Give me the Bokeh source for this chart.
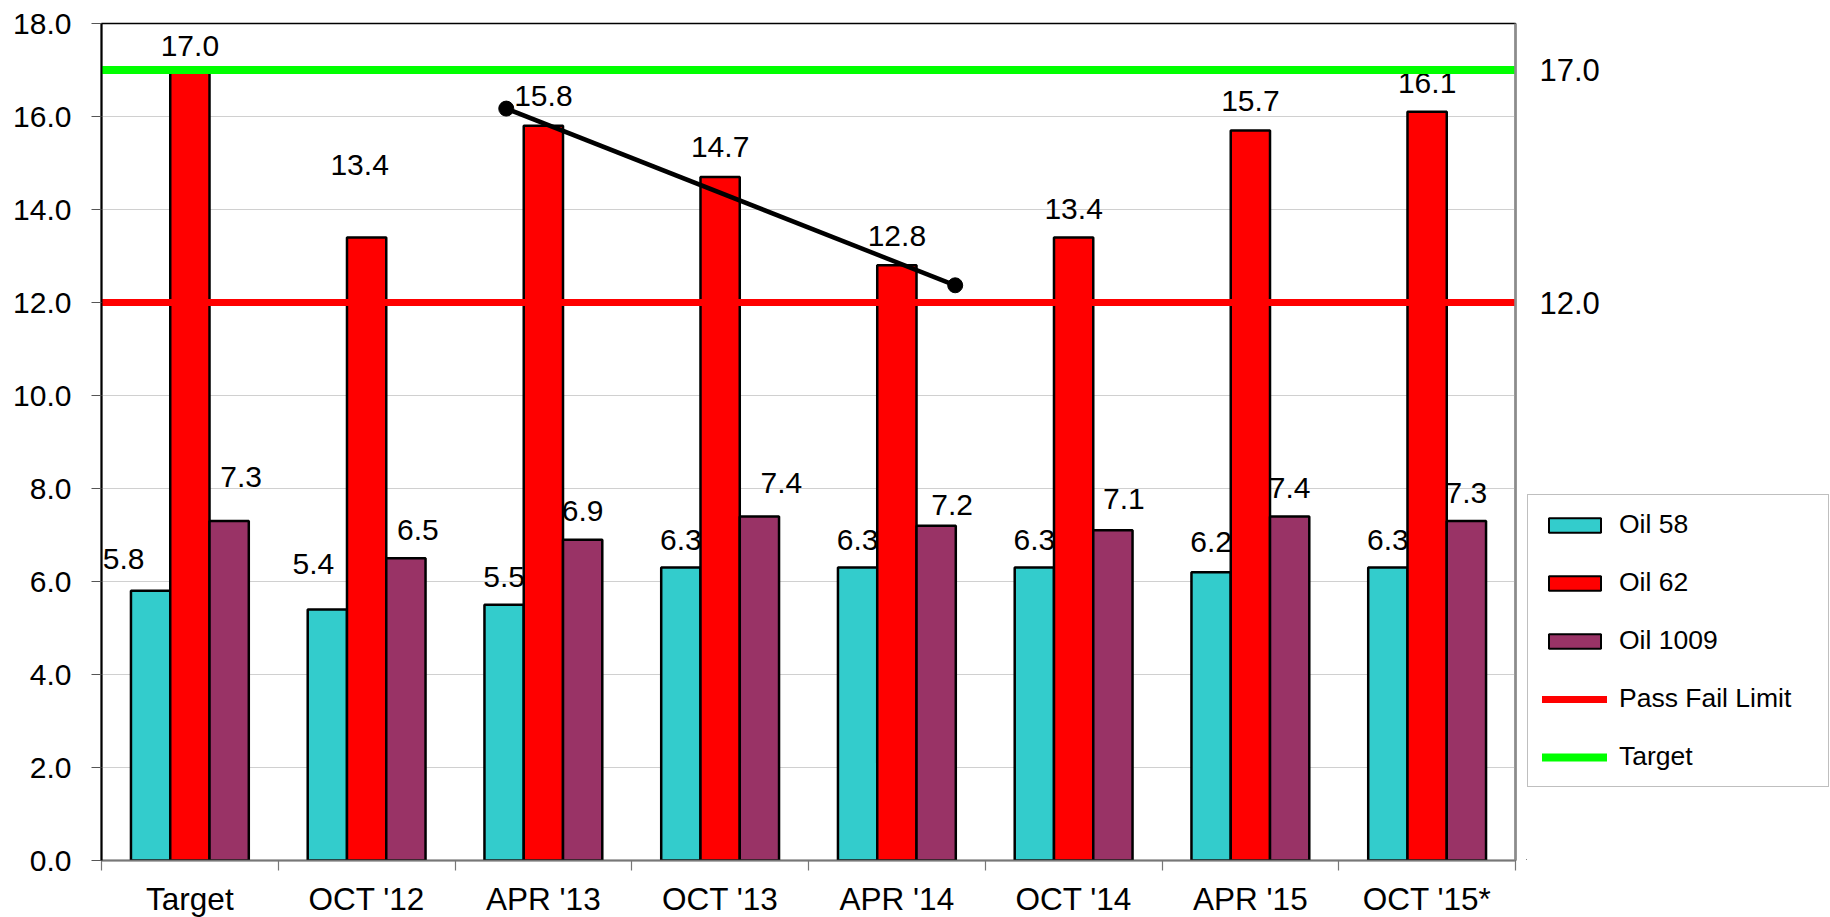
import numpy as np
from bokeh.plotting import figure
from bokeh.layouts import row
from bokeh.models import (ColumnDataSource, LabelSet, LinearAxis, FixedTicker,
                          PrintfTickFormatter, Legend, LegendItem, Range1d)
from bokeh.core.properties import value
from bokeh.embed import file_html
from bokeh.resources import INLINE

# ---------------- data ----------------
categories = ["Target", "OCT '12", "APR '13", "OCT '13", "APR '14", "OCT '14", "APR '15", "OCT '15*"]
oil_58 = [5.8, 5.4, 5.5, 6.3, 6.3, 6.3, 6.2, 6.3]
oil_62 = [17.0, 13.4, 15.8, 14.7, 12.8, 13.4, 15.7, 16.1]
oil_1009 = [7.3, 6.5, 6.9, 7.4, 7.2, 7.1, 7.4, 7.3]
pass_fail_limit = 12.0
target = 17.0
y_ticks = [0, 2, 4, 6, 8, 10, 12, 14, 16, 18]
# trend arrow drawn over the Oil 62 bars (x in category units, y in values)
trend_x = [2.29, 4.83]
trend_y = [16.17, 12.37]

# ---------------- label nudges (pixels; style only) ----------------
dx_58 = [-27, -14, 0, 0, 0, 0, 0, 0]
up_58 = [32, 45, 28, 28, 28, 28, 30, 28]
dx_62 = [0, -7, 0, 0, 0, 0, 0, 0]
up_62 = [24, 72, 29.5, 29.5, 29, 28, 29.5, 29]
dx_1009 = [12, 12, 0, 22, 16, 11, 0, 0]
up_1009 = [44, 28, 29, 33, 21, 31, 28.6, 28.5]

FONT = "Liberation Sans"
n = len(categories)
TOTAL_W = 1830
FL, FT, FW, FH = 101, 23, 1414, 837
RIGHT_GAP = 11
SIDE_W = TOTAL_W - FL - FW - RIGHT_GAP

y_range = Range1d(y_ticks[0], y_ticks[-1])

p = figure(frame_width=FW, frame_height=FH,
           x_range=Range1d(0, n), y_range=y_range,
           output_backend="svg", toolbar_location=None)
p.min_border = 0
p.min_border_left = FL
p.min_border_top = FT
p.min_border_right = RIGHT_GAP
p.min_border_bottom = 0
p.background_fill_color = "white"
p.border_fill_color = "white"
p.outline_line_color = "black"
p.outline_line_width = 1.5

xc = np.arange(n) + 0.5

# x axis: labels at category centres, tick marks at category boundaries
xa = p.xaxis[0]
xa.ticker = FixedTicker(ticks=list(xc), minor_ticks=list(range(n + 1)))
xa.major_label_overrides = {float(x): c for x, c in zip(xc, categories)}
xa.major_label_text_font = FONT
xa.major_label_text_font_size = "31.5px"
xa.major_label_text_color = "black"
xa.major_label_standoff = 10
xa.major_tick_out = 0
xa.major_tick_in = 0
xa.minor_tick_out = 10
xa.minor_tick_in = 0
xa.axis_line_color = "#777777"
xa.axis_line_width = 1.5
xa.minor_tick_line_color = "#777777"
xa.minor_tick_line_width = 1.2

ya = p.yaxis[0]
ya.ticker = FixedTicker(ticks=y_ticks, minor_ticks=[])
ya.formatter = PrintfTickFormatter(format="%.1f")
ya.major_label_text_font = FONT
ya.major_label_text_font_size = "30px"
ya.major_label_text_color = "black"
ya.major_label_standoff = 20
ya.major_tick_out = 10
ya.major_tick_in = 0
ya.minor_tick_out = 0
ya.minor_tick_in = 0
ya.major_tick_line_color = "#555555"
ya.axis_line_color = "black"
ya.axis_line_width = 2

# grey right-hand frame edge
ra = LinearAxis(ticker=FixedTicker(ticks=[], minor_ticks=[]),
                major_tick_out=0, major_tick_in=0, minor_tick_out=0, minor_tick_in=0,
                major_label_standoff=0, major_label_text_font_size="1px",
                axis_line_color="#8c8c8c", axis_line_width=2.5)
p.add_layout(ra, "right")

p.xgrid.visible = False
p.ygrid.ticker = FixedTicker(ticks=y_ticks, minor_ticks=[])
p.ygrid.grid_line_color = "#d0d0d0"
p.ygrid.grid_line_width = 1

# ---------------- bars + labels ----------------
bw = 1 / 4.5
series = [
    ("Oil 58", oil_58, "#33CCCC", -1, dx_58, up_58),
    ("Oil 62", oil_62, "#FF0000", 0, dx_62, up_62),
    ("Oil 1009", oil_1009, "#993366", 1, dx_1009, up_1009),
]
for name, vals, col, k, dx, up in series:
    src = ColumnDataSource(dict(x=xc + k * bw, top=vals,
                                text=["%.1f" % v for v in vals], dx=dx, up=up))
    lab = LabelSet(x="x", y="top", text="text", source=src, x_offset="dx", y_offset="up",
                   text_align="center", text_baseline="middle",
                   text_font=value(FONT), text_font_size=value("30px"),
                   text_color="black", level="underlay")
    p.add_layout(lab)
    p.vbar(x="x", top="top", width=bw, bottom=0, source=src,
           fill_color=col, line_color="black", line_width=2.5)

# ---------------- reference lines ----------------
p.line(x=[0, n], y=[pass_fail_limit, pass_fail_limit], line_color="#FF0000",
       line_width=7, line_cap="round")
p.line(x=[0, n], y=[target, target], line_color="#00FF00",
       line_width=8, line_cap="round")

# trend line
p.line(x=trend_x, y=trend_y, line_color="black", line_width=4.5)
p.scatter(x=trend_x, y=trend_y, size=15, fill_color="black", line_color="black")

# ---------------- side panel: limit values + legend ----------------
s = figure(width=SIDE_W, frame_height=FH, x_range=Range1d(0, 1), y_range=y_range,
           x_axis_location=None, y_axis_location=None,
           output_backend="svg", toolbar_location=None)
s.min_border = 0
s.min_border_top = FT
s.outline_line_color = None
s.background_fill_color = "white"
s.border_fill_color = "white"
s.grid.visible = False

lim_src = ColumnDataSource(dict(x=[0, 0], y=[target, pass_fail_limit],
                                text=["%.1f" % target, "%.1f" % pass_fail_limit]))
s.text(x="x", y="y", text="text", source=lim_src, x_offset=13,
       text_align="left", text_baseline="middle",
       text_font=value(FONT), text_font_size=value("31px"), text_color="black")

# legend-only renderers: their single point lies far outside the visible area
hx, hy = -50, y_ticks[0] - 50
proxies = []
for name, vals, col, k, dx, up in series:
    rr = s.vbar(x=[hx], top=[hy], bottom=[hy - 1], width=0.1,
                fill_color=col, line_color="black", line_width=2)
    proxies.append((name, rr))
sp = s.line(x=[hx, hx + 0.1], y=[hy, hy], line_color="#FF0000", line_width=7, line_cap="round")
st = s.line(x=[hx, hx + 0.1], y=[hy, hy], line_color="#00FF00", line_width=8, line_cap="round")
items = [LegendItem(label=nm, renderers=[r]) for nm, r in proxies]
items += [LegendItem(label="Pass Fail Limit", renderers=[sp]),
          LegendItem(label="Target", renderers=[st])]
legend = Legend(items=items, location=(1, 73), orientation="vertical",
                padding=14, spacing=27, margin=0,
                glyph_height=18, glyph_width=65, label_standoff=12,
                label_height=18, label_width=195,
                border_line_color="#808080", border_line_width=1.5,
                background_fill_color="white", background_fill_alpha=1.0,
                label_text_font=FONT, label_text_font_size="26.5px",
                label_text_color="black")
s.add_layout(legend)

layout = row(p, s, spacing=0)
open("out.html", "w").write(file_html(layout, INLINE, "chart"))
